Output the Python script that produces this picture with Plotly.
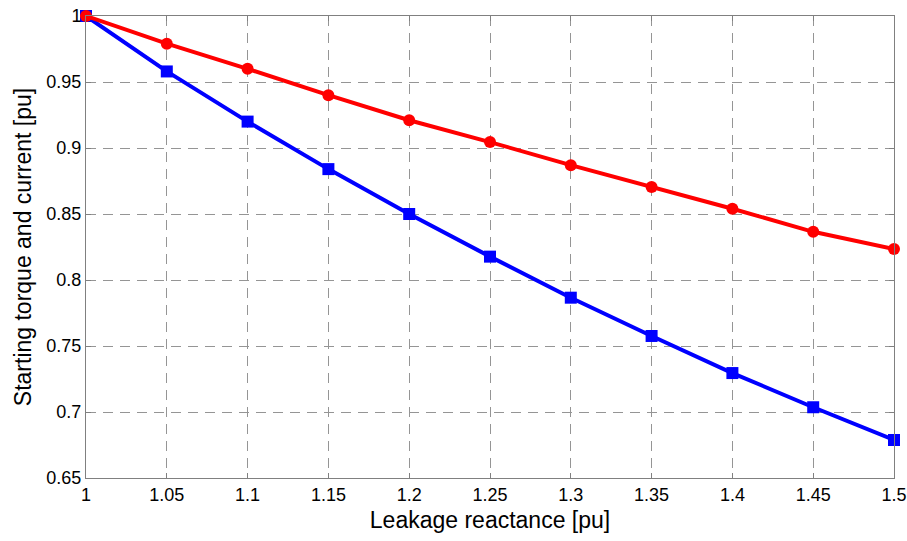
import plotly.graph_objects as go

x_vals = [1.0, 1.05, 1.1, 1.15, 1.2, 1.25, 1.3, 1.35, 1.4, 1.45, 1.5]
torque_red = [1.0, 0.979, 0.960, 0.940, 0.921, 0.9045, 0.887, 0.8705, 0.854, 0.8365, 0.8235]
current_blue = [1.0, 0.958, 0.920, 0.884, 0.850, 0.8177, 0.7866, 0.7576, 0.7295, 0.7036, 0.6788]
x_ticks = [1, 1.05, 1.1, 1.15, 1.2, 1.25, 1.3, 1.35, 1.4, 1.45, 1.5]
x_tick_text = ["1", "1.05", "1.1", "1.15", "1.2", "1.25", "1.3", "1.35", "1.4", "1.45", "1.5"]
y_ticks = [0.65, 0.7, 0.75, 0.8, 0.85, 0.9, 0.95, 1.0]
y_tick_text = ["0.65", "0.7", "0.75", "0.8", "0.85", "0.9", "0.95", "1"]

FONT = "Liberation Sans, Arial, sans-serif"

fig = go.Figure()
fig.add_trace(go.Scatter(x=x_vals, y=current_blue, mode="lines+markers",
                         line=dict(color="#0000ff", width=4),
                         marker=dict(symbol="square", size=12, color="#0000ff"),
                         cliponaxis=False, showlegend=False))
fig.add_trace(go.Scatter(x=x_vals, y=torque_red, mode="lines+markers",
                         line=dict(color="#ff0000", width=4),
                         marker=dict(symbol="circle", size=12, color="#ff0000"),
                         cliponaxis=False, showlegend=False))

axis_common = dict(showgrid=True, gridcolor="#959595", griddash="10px,7px", gridwidth=1,
                   showline=True, linecolor="#808080", linewidth=1, mirror="ticks",
                   zeroline=False, ticks="inside", ticklen=5, tickcolor="#808080",
                   automargin=False,
                   tickfont=dict(family=FONT, size=18, color="black"))

fig.update_xaxes(range=[1, 1.5], tickvals=x_ticks, ticktext=x_tick_text,
                 title=dict(text="Leakage reactance [pu]", standoff=8,
                            font=dict(family=FONT, size=23, color="black")),
                 **axis_common)
fig.update_yaxes(range=[0.65, 1.0], tickvals=y_ticks, ticktext=y_tick_text,
                 title=dict(text="Starting torque and current [pu]", standoff=8,
                            font=dict(family=FONT, size=23, color="black")),
                 **axis_common)

fig.update_layout(width=907, height=541, margin=dict(l=86, r=13, t=16, b=63),
                  plot_bgcolor="white", paper_bgcolor="white")
fig.write_html("out.html")
